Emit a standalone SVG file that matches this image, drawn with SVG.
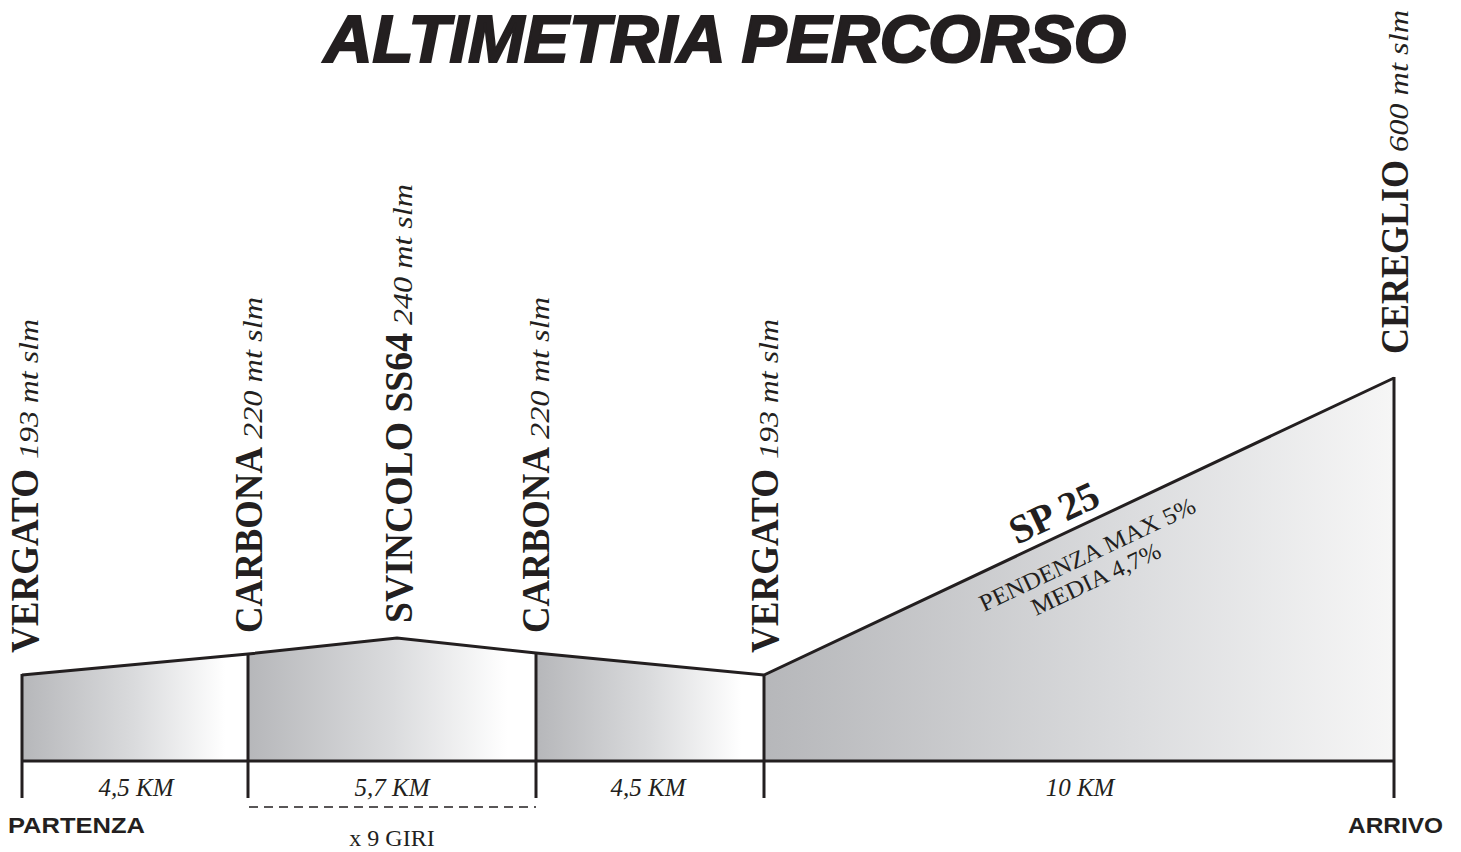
<svg xmlns="http://www.w3.org/2000/svg" width="1461" height="852" viewBox="0 0 1461 852">
<style>
.bold{font-family:"Liberation Serif","Times New Roman",serif;font-weight:bold;font-size:39px;fill:#231f20}
.ital{font-family:"Liberation Serif","Times New Roman",serif;font-style:italic;font-size:28px;fill:#231f20}
.reg{font-family:"Liberation Serif","Times New Roman",serif;font-size:24px;fill:#231f20}
.sans{font-family:"Liberation Sans",Arial,sans-serif;font-weight:bold;font-size:22px;fill:#231f20}
.km{font-family:"Liberation Serif","Times New Roman",serif;font-style:italic;font-size:25px;fill:#231f20;text-anchor:middle}
.edge{stroke:#231f20;stroke-width:3;fill:none}
</style>
<defs>
<linearGradient id="g" x1="0" y1="0" x2="1" y2="0">
<stop offset="0" stop-color="#b6b7ba"/>
<stop offset="0.5" stop-color="#dadbdd"/>
<stop offset="0.9" stop-color="#ffffff"/>
</linearGradient>
<linearGradient id="g4" x1="0" y1="0" x2="1" y2="0">
<stop offset="0" stop-color="#b6b7ba"/>
<stop offset="0.6" stop-color="#dcdddf"/>
<stop offset="1" stop-color="#f6f6f6"/>
</linearGradient>
</defs>
<rect width="1461" height="852" fill="#ffffff"/>
<g id="title">
<text x="324" y="62" textLength="802" lengthAdjust="spacingAndGlyphs" style="font-family:'Liberation Sans',Arial,sans-serif;font-weight:bold;font-style:italic;font-size:66px;fill:#231f20;stroke:#231f20;stroke-width:2.2">ALTIMETRIA PERCORSO</text>
</g>
<g id="profile">
<polygon points="22,675 248,654 248,761 22,761" fill="url(#g)"/>
<polygon points="248,654 397,638 536,653 536,761 248,761" fill="url(#g)"/>
<polygon points="536,653 764,675 764,761 536,761" fill="url(#g)"/>
<polygon points="764,675 1394,378 1394,761 764,761" fill="url(#g4)"/>
</g>
<g id="connectors">
<polyline class="edge" points="22,675 248,654 397,638 536,653 764,675 1394,378"/>
<line class="edge" x1="22" y1="761" x2="1394" y2="761"/>
<line class="edge" x1="22" y1="674" x2="22" y2="798"/>
<line class="edge" x1="248" y1="653" x2="248" y2="798"/>
<line class="edge" x1="536" y1="652" x2="536" y2="798"/>
<line class="edge" x1="764" y1="674" x2="764" y2="798"/>
<line class="edge" x1="1394" y1="377" x2="1394" y2="798"/>
<line x1="249" y1="807" x2="536" y2="807" stroke="#231f20" stroke-width="1.5" stroke-dasharray="9 6"/>
</g>
<g id="node-vergato1">
<text class="bold" transform="translate(38,653) rotate(-90)" textLength="184" lengthAdjust="spacingAndGlyphs">VERGATO</text>
<text class="ital" transform="translate(38,459) rotate(-90)" textLength="140" lengthAdjust="spacingAndGlyphs">193 mt slm</text>
</g>
<g id="node-carbona1">
<text class="bold" transform="translate(262,633) rotate(-90)" textLength="186" lengthAdjust="spacingAndGlyphs">CARBONA</text>
<text class="ital" transform="translate(262,439) rotate(-90)" textLength="142" lengthAdjust="spacingAndGlyphs">220 mt slm</text>
</g>
<g id="node-svincolo">
<text class="bold" transform="translate(412,623) rotate(-90)" textLength="290" lengthAdjust="spacingAndGlyphs">SVINCOLO SS64</text>
<text class="ital" transform="translate(412,325) rotate(-90)" textLength="141" lengthAdjust="spacingAndGlyphs">240 mt slm</text>
</g>
<g id="node-carbona2">
<text class="bold" transform="translate(549,633) rotate(-90)" textLength="186" lengthAdjust="spacingAndGlyphs">CARBONA</text>
<text class="ital" transform="translate(549,439) rotate(-90)" textLength="142" lengthAdjust="spacingAndGlyphs">220 mt slm</text>
</g>
<g id="node-vergato2">
<text class="bold" transform="translate(778,653) rotate(-90)" textLength="184" lengthAdjust="spacingAndGlyphs">VERGATO</text>
<text class="ital" transform="translate(778,459) rotate(-90)" textLength="140" lengthAdjust="spacingAndGlyphs">193 mt slm</text>
</g>
<g id="node-cereglio">
<text class="bold" transform="translate(1408,354) rotate(-90)" textLength="194" lengthAdjust="spacingAndGlyphs">CEREGLIO</text>
<text class="ital" transform="translate(1408,152) rotate(-90)" textLength="142" lengthAdjust="spacingAndGlyphs">600 mt slm</text>
</g>
<g id="node-sp25">
<text class="bold" transform="translate(1017,545) rotate(-25.24)" style="font-size:40px">SP 25</text>
<text class="reg" transform="translate(984,612) rotate(-25.24)" textLength="236" lengthAdjust="spacingAndGlyphs">PENDENZA MAX 5%</text>
<text class="reg" transform="translate(1036,616) rotate(-25.24)" textLength="140" lengthAdjust="spacingAndGlyphs">MEDIA 4,7%</text>
</g>
<g id="distances">
<text class="km" x="136" y="796">4,5 KM</text>
<text class="km" x="392" y="796">5,7 KM</text>
<text class="km" x="648" y="796">4,5 KM</text>
<text class="km" x="1080" y="796">10 KM</text>
</g>
<g id="node-partenza">
<text class="sans" x="8" y="833" textLength="137" lengthAdjust="spacingAndGlyphs">PARTENZA</text>
</g>
<g id="node-arrivo">
<text class="sans" x="1348" y="833" textLength="95" lengthAdjust="spacingAndGlyphs">ARRIVO</text>
</g>
<g id="laps">
<text class="reg" x="392" y="846" text-anchor="middle" style="font-size:24px">x 9 GIRI</text>
</g>
</svg>
